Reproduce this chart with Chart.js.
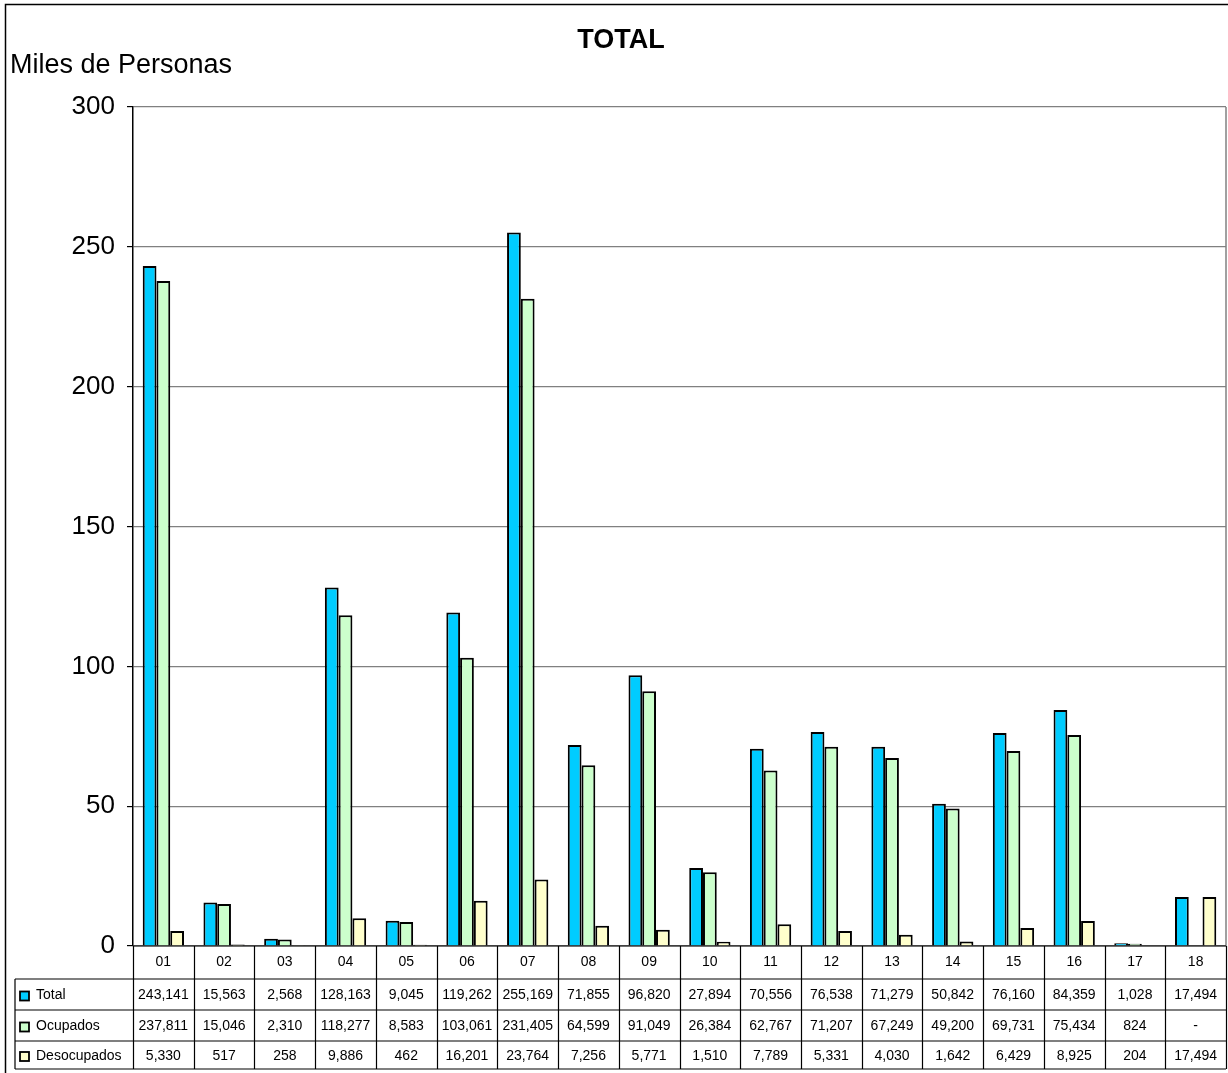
<!DOCTYPE html>
<html>
<head>
<meta charset="utf-8">
<script src="https://cdn.jsdelivr.net/npm/chart.js@4/dist/chart.umd.min.js"></script>
<style>
html,body{margin:0;padding:0;background:#fff;}
#wrap{width:1228px;height:1073px;position:relative;}
</style>
</head>
<body>
<div id="wrap"><canvas id="c" width="1228" height="1073"></canvas></div>
<script>
const categories = ["01","02","03","04","05","06","07","08","09","10","11","12","13","14","15","16","17","18"];
const seriesNames = ["Total","Ocupados","Desocupados"];
const totalValues = [243141,15563,2568,128163,9045,119262,255169,71855,96820,27894,70556,76538,71279,50842,76160,84359,1028,17494];
const ocupadosValues = [237811,15046,2310,118277,8583,103061,231405,64599,91049,26384,62767,71207,67249,49200,69731,75434,824,null];
const desocupadosValues = [5330,517,258,9886,462,16201,23764,7256,5771,1510,7789,5331,4030,1642,6429,8925,204,17494];
const yTicks = [0,50,100,150,200,250,300];
const chartTitle = "TOTAL";
const yAxisLabel = "Miles de Personas";

const colors = ["#00CCFF","#CCFFCC","#FFFFCC"];
const FONT = "'Liberation Sans', Arial, sans-serif";
const rawSeries = [totalValues, ocupadosValues, desocupadosValues];
const toThousands = arr => arr.map(v => v === null ? null : v / 1000);
const fmt = v => v === null ? "-" : v.toLocaleString("en-US");

const tablePlugin = {
  id: "tablePlugin",
  beforeDraw(chart) {
    const ctx = chart.ctx;
    ctx.save();
    ctx.fillStyle = "#fff";
    ctx.fillRect(0, 0, chart.width, chart.height);
    ctx.strokeStyle = "#000";
    ctx.lineWidth = 1.5;
    ctx.strokeRect(5.5, 4.5, chart.width + 10, chart.height + 10);
    ctx.restore();
  },
  afterDraw(chart) {
    const ctx = chart.ctx;
    const area = chart.chartArea;
    const xs = chart.scales.x;
    ctx.save();
    // title
    ctx.fillStyle = "#000";
    ctx.font = "bold 27px " + FONT;
    ctx.textAlign = "center";
    ctx.textBaseline = "middle";
    ctx.fillText(chartTitle, 621, 41);
    // y label
    ctx.font = "27px " + FONT;
    ctx.textAlign = "left";
    ctx.fillText(yAxisLabel, 10, 66);
    // right plot border
    ctx.strokeStyle = "#808080";
    ctx.lineWidth = 1.5;
    ctx.beginPath();
    ctx.moveTo(area.right, area.top);
    ctx.lineTo(area.right, area.bottom);
    ctx.stroke();
    // table
    const n = categories.length;
    const step = (area.right - area.left) / n;
    const rowTops = [area.bottom, 979, 1010, 1041, 1069];
    const tableLeft = 15;
    ctx.strokeStyle = "#000";
    ctx.lineWidth = 1.2;
    ctx.beginPath();
    ctx.moveTo(area.left, area.bottom);
    ctx.lineTo(area.right, area.bottom);
    for (let r = 1; r < rowTops.length; r++) {
      ctx.moveTo(tableLeft, rowTops[r]);
      ctx.lineTo(area.right, rowTops[r]);
    }
    ctx.moveTo(tableLeft, rowTops[1]);
    ctx.lineTo(tableLeft, rowTops[4]);
    for (let i = 0; i <= n; i++) {
      const x = Math.round(area.left + i * step) + 0.5;
      ctx.moveTo(x, rowTops[0]);
      ctx.lineTo(x, rowTops[4]);
    }
    ctx.stroke();
    ctx.font = "14px " + FONT;
    ctx.textBaseline = "middle";
    for (let r = 0; r < 3; r++) {
      const cy = (rowTops[r + 1] + rowTops[r + 2]) / 2 + 1;
      ctx.fillStyle = colors[r];
      ctx.fillRect(20, cy - 4, 9, 9);
      ctx.strokeStyle = "#000";
      ctx.lineWidth = 1.8;
      ctx.strokeRect(20, cy - 4, 9, 9);
      ctx.fillStyle = "#000";
      ctx.textAlign = "left";
      ctx.fillText(seriesNames[r], 36, cy);
      ctx.textAlign = "center";
      for (let i = 0; i < n; i++) {
        const cx = xs.getPixelForValue(i);
        ctx.fillText(fmt(rawSeries[r][i]), cx, cy);
      }
    }
    ctx.restore();
  }
};

new Chart(document.getElementById("c"), {
  type: "bar",
  data: {
    labels: categories,
    datasets: seriesNames.map((name, k) => ({
      label: name,
      data: toThousands(rawSeries[k]),
      backgroundColor: colors[k],
      borderColor: "#000",
      borderWidth: 2,
      borderSkipped: "bottom",
      categoryPercentage: 0.68,
      barPercentage: 1.0
    }))
  },
  options: {
    responsive: false,
    animation: false,
    devicePixelRatio: 1,
    layout: { padding: { left: 5, right: 2, top: 107, bottom: 96 } },
    plugins: {
      legend: { display: false },
      title: { display: false },
      tooltip: { enabled: false }
    },
    scales: {
      x: {
        grid: { display: false, drawTicks: false },
        border: { display: false },
        ticks: { color: "#000", font: { family: FONT, size: 14 }, padding: 8, maxRotation: 0 },
        afterFit(s) { s.height = 31; }
      },
      y: {
        min: 0, max: 300,
        afterBuildTicks(s) { s.ticks = yTicks.map(v => ({ value: v })); },
        grid: { color: "#808080", lineWidth: 1.2, tickLength: 6, tickColor: "#000" },
        border: { color: "#000", width: 1.5 },
        ticks: { color: "#000", font: { family: FONT, size: 26 }, padding: 12 },
        afterFit(s) { s.width = 128; }
      }
    }
  },
  plugins: [tablePlugin]
});
</script>
</body>
</html>
